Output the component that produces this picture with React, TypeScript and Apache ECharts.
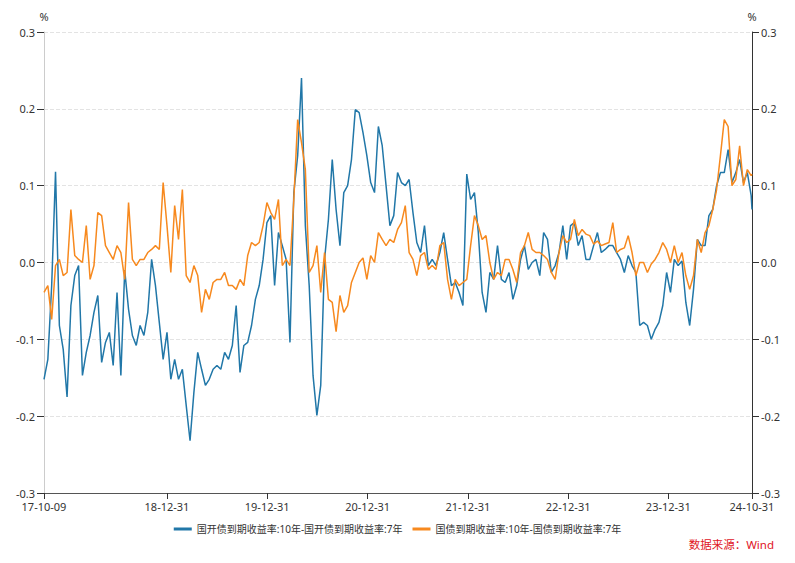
import React, { useEffect, useRef } from "react";
import * as echarts from "echarts";

// 国开债到期收益率:10年-国开债到期收益率:7年 (every 14 days from 2017-10-09, last = 2024-10-31)
const CDB_SPREAD = [
  -0.152, -0.126, -0.030, 0.118, -0.082, -0.113, -0.175, -0.056, -0.017, -0.004,
  -0.147, -0.117, -0.095, -0.065, -0.043, -0.130, -0.104, -0.091, -0.134, -0.039,
  -0.147, -0.010, -0.061, -0.095, -0.108, -0.082, -0.095, -0.065, 0.004, -0.030,
  -0.078, -0.126, -0.091, -0.152, -0.126, -0.152, -0.139, -0.186, -0.232, -0.169,
  -0.117, -0.139, -0.160, -0.152, -0.139, -0.134, -0.139, -0.117, -0.126, -0.108,
  -0.056, -0.143, -0.108, -0.104, -0.082, -0.048, -0.030, 0.004, 0.052, 0.061,
  -0.030, 0.039, 0.022, 0.004, -0.104, 0.091, 0.139, 0.240, 0.048, -0.030,
  -0.147, -0.199, -0.160, 0.004, 0.056, 0.134, 0.069, 0.022, 0.091, 0.100,
  0.134, 0.199, 0.195, 0.169, 0.139, 0.104, 0.091, 0.177, 0.152, 0.100,
  0.048, 0.061, 0.117, 0.104, 0.100, 0.108, 0.065, 0.026, 0.013, 0.048,
  -0.004, 0.004, -0.004, 0.013, 0.039, 0.004, -0.030, -0.026, -0.039, -0.056,
  0.115, 0.082, 0.091, 0.039, -0.039, -0.065, -0.013, -0.022, 0.022, -0.022,
  -0.026, -0.013, -0.048, -0.030, 0.004, 0.022, -0.009, 0.000, 0.004, -0.017,
  0.039, 0.030, -0.013, -0.004, 0.013, 0.048, 0.004, 0.048, 0.052, 0.022,
  0.035, 0.004, 0.004, 0.022, 0.039, 0.013, 0.017, 0.022, 0.022, 0.013,
  0.004, -0.013, 0.009, -0.004, -0.013, -0.082, -0.078, -0.082, -0.100, -0.087,
  -0.078, -0.056, -0.013, -0.039, 0.004, -0.004, 0.002, -0.052, -0.082, -0.035,
  0.030, 0.022, 0.022, 0.061, 0.069, 0.100, 0.117, 0.117, 0.147, 0.104,
  0.117, 0.134, 0.104, 0.117, 0.087, 0.069,
];

// 国债到期收益率:10年-国债到期收益率:7年
const CGB_SPREAD = [
  -0.039, -0.030, -0.074, -0.004, 0.004, -0.017, -0.013, 0.069, 0.009, 0.004,
  0.000, 0.048, -0.022, -0.004, 0.065, 0.061, 0.022, 0.013, 0.004, 0.022,
  0.013, -0.022, 0.078, 0.004, -0.004, 0.004, 0.004, 0.013, 0.017, 0.022,
  0.017, 0.104, 0.048, -0.013, 0.074, 0.030, 0.095, -0.017, -0.026, -0.004,
  -0.017, -0.065, -0.035, -0.048, -0.026, -0.022, -0.022, -0.013, -0.030, -0.030,
  -0.035, -0.022, -0.030, 0.009, 0.026, 0.022, 0.026, 0.048, 0.078, 0.065,
  0.056, 0.082, -0.004, 0.004, -0.004, 0.082, 0.186, 0.156, 0.121, -0.013,
  -0.004, 0.022, -0.039, 0.013, -0.048, -0.052, -0.090, -0.043, -0.065, -0.056,
  -0.026, -0.013, 0.000, 0.006, -0.022, 0.009, 0.000, 0.039, 0.030, 0.022,
  0.030, 0.026, 0.043, 0.052, 0.074, 0.013, 0.004, -0.017, 0.009, 0.013,
  -0.009, -0.004, -0.009, 0.022, 0.026, -0.022, -0.048, -0.022, -0.030, -0.026,
  -0.022, 0.022, 0.061, 0.048, 0.030, 0.035, 0.000, -0.022, -0.013, -0.017,
  0.004, 0.004, -0.009, -0.026, 0.013, 0.022, 0.039, 0.017, 0.013, 0.013,
  0.009, 0.004, -0.013, -0.022, 0.013, 0.035, 0.026, 0.030, 0.056, 0.035,
  0.043, 0.037, 0.035, 0.024, 0.028, 0.022, 0.024, 0.026, 0.052, 0.013,
  0.017, 0.019, 0.035, 0.013, -0.017, 0.000, 0.000, -0.013, -0.002, 0.004,
  0.013, 0.026, 0.017, 0.000, 0.022, 0.000, 0.013, -0.017, -0.035, -0.017,
  0.030, 0.013, 0.039, 0.048, 0.069, 0.095, 0.139, 0.186, 0.177, 0.100,
  0.108, 0.152, 0.100, 0.121, 0.113, 0.115,
];

const START_DATE = "2017-10-09";
const END_DATE = "2024-10-31";
const STEP_DAYS = 14;
const X_LABEL_DATES = [
  "2017-10-09", "2018-12-31", "2019-12-31", "2020-12-31",
  "2021-12-31", "2022-12-31", "2023-12-31", "2024-10-31",
];
const Y_TICKS = [-0.3, -0.2, -0.1, 0, 0.1, 0.2, 0.3];
const SERIES_NAMES = [
  "国开债到期收益率:10年-国开债到期收益率:7年",
  "国债到期收益率:10年-国债到期收益率:7年",
];
const SOURCE_TEXT = "数据来源：Wind";

const DAY = 86400000;
const toMs = (s: string) => {
  const [y, m, d] = s.split("-").map(Number);
  return Date.UTC(y, m - 1, d);
};

export default function App() {
  const ref = useRef<HTMLDivElement>(null);
  useEffect(() => {
    if (!ref.current) return;
    const chart = echarts.init(ref.current, undefined, { renderer: "svg" });
    const start = toMs(START_DATE);
    const end = toMs(END_DATE);
    const n = CDB_SPREAD.length;
    const dates = CDB_SPREAD.map((_, i) => (i === n - 1 ? end : start + i * STEP_DAYS * DAY));
    const labelVals = X_LABEL_DATES.map(toMs);
    const fmt = (v: number) => {
      const d = new Date(v);
      const p = (x: number) => String(x).padStart(2, "0");
      return `${p(d.getUTCFullYear() % 100)}-${p(d.getUTCMonth() + 1)}-${p(d.getUTCDate())}`;
    };
    const font = '"Noto Sans", "Noto Sans CJK SC", sans-serif';
    const yBase = {
      type: "value",
      min: Y_TICKS[0],
      max: Y_TICKS[Y_TICKS.length - 1],
      interval: 0.1,
      name: "%",
      nameLocation: "end",
      nameGap: 10,
      nameTextStyle: { color: "#333", fontSize: 11, fontFamily: font },
      axisTick: { show: true, length: 7, lineStyle: { color: "#333" } },
      axisLabel: {
        color: "#333",
        fontSize: 11,
        fontFamily: font,
        margin: 9,
        formatter: (v: number) => v.toFixed(1),
      },
    };
    chart.setOption({
      animation: false,
      backgroundColor: "#fff",
      grid: { left: 44, right: 43, top: 32, bottom: 70, containLabel: false },
      legend: {
        top: 519,
        left: "center",
        icon: "rect",
        itemWidth: 18,
        itemHeight: 3,
        itemGap: 10,
        textStyle: { color: "#333", fontSize: 10, fontFamily: font },
        data: SERIES_NAMES,
      },
      xAxis: {
        type: "value",
        min: start,
        max: end,
        axisLine: { onZero: false, lineStyle: { color: "#555" } },
        axisTick: { show: true, customValues: labelVals, length: 6, lineStyle: { color: "#333" } },
        axisLabel: {
          customValues: labelVals,
          formatter: fmt,
          color: "#333",
          fontSize: 11,
          fontFamily: font,
          margin: 8,
          showMinLabel: true,
          showMaxLabel: true,
        },
        splitLine: { show: false },
      },
      yAxis: [
        {
          ...yBase,
          position: "left",
          axisLine: { show: true, onZero: false, lineStyle: { color: "#ccc" } },
          splitLine: { show: true, lineStyle: { type: "dashed", color: "#e3e3e3" } },
        },
        {
          ...yBase,
          position: "right",
          axisLine: { show: true, onZero: false, lineStyle: { color: "#333" } },
          splitLine: { show: false },
        },
      ],
      series: [
        {
          name: SERIES_NAMES[0],
          type: "line",
          yAxisIndex: 0,
          showSymbol: false,
          symbol: "none",
          color: "#2177a8",
          lineStyle: { width: 1.5, color: "#2177a8" },
          data: dates.map((d, i) => [d, CDB_SPREAD[i]]),
        },
        {
          name: SERIES_NAMES[1],
          type: "line",
          yAxisIndex: 0,
          showSymbol: false,
          symbol: "none",
          color: "#f7891e",
          lineStyle: { width: 1.5, color: "#f7891e" },
          data: dates.map((d, i) => [d, CGB_SPREAD[i]]),
        },
      ],
      graphic: [
        {
          type: "text",
          right: 21,
          top: 539,
          style: {
            text: SOURCE_TEXT,
            fill: "#e0141e",
            font: `11.5px ${font}`,
          },
        },
      ],
    });
    return () => chart.dispose();
  }, []);
  return (
    <div
      ref={ref}
      style={{ position: "fixed", left: 0, top: 0, width: 795, height: 563, background: "#fff" }}
    />
  );
}
